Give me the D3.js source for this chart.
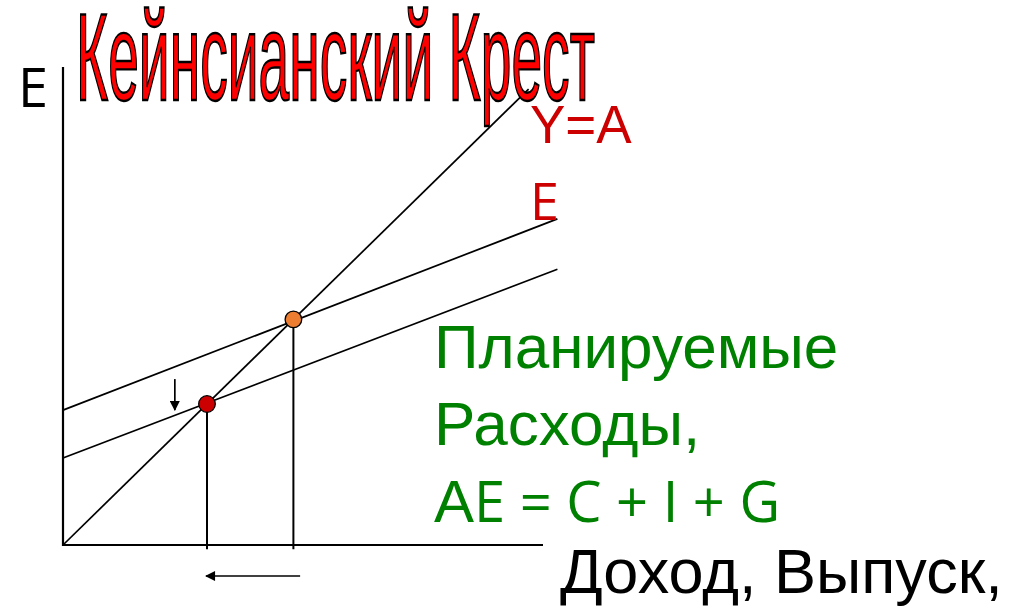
<!DOCTYPE html>
<html>
<head>
<meta charset="utf-8">
<script src="https://cdn.jsdelivr.net/npm/d3@7"></script>
<style>
  html, body { margin: 0; padding: 0; background: #fff; }
  svg { display: block; }
</style>
</head>
<body>
<script>
// Keynesian cross: 45 degree line and two planned expenditure lines

var w = 1011;
var h = 607;

// data (income / expenditure in abstract units)
var titleText = 'Кейнсианский Крест';
var incomeMax = 103;          // where AE lines stop
var axisMax = [100, 101.7];   // x axis end, y axis end
var diagMax = 97;             // Y = AE line end
var aeIntercept = [28.7, 18.5];
var aeSlope = [0.395, 0.39];
var equilibrium = [48, 30];   // old (orange) and new (red) equilibrium income
var pointColors = ['#ed7d31', '#cc0000'];
var greenLines = ['Планируемые', 'Расходы,'];
var xLabel = 'Доход, Выпуск,';

var x = d3.scaleLinear().domain([0, 100]).range([63, 543]);
var y = d3.scaleLinear().domain([0, 100]).range([545, 75]);

var svg = d3.select('body')
            .append('svg')
            .attr('width', w)
            .attr('height', h);

var defs = svg.append('defs');
defs.append('marker')
  .attr('id', 'head')
  .attr('viewBox', '0 0 10 10')
  .attr('refX', 9)
  .attr('refY', 5)
  .attr('markerWidth', 12)
  .attr('markerHeight', 10)
  .attr('markerUnits', 'userSpaceOnUse')
  .attr('orient', 'auto')
  .append('path')
  .attr('d', 'M0,0 L10,5 L0,10 Z')
  .attr('fill', '#000');

var line = d3.line()
  .x(function(d){ return x(d[0]); })
  .y(function(d){ return y(d[1]); });

// axes
svg.append('path')
  .attr('d', line([[0, axisMax[1]], [0, 0], [axisMax[0], 0]]))
  .attr('fill', 'none')
  .attr('stroke', '#000')
  .attr('stroke-width', 2.2);

// Y = AE
svg.append('path')
  .attr('d', line([[0, 0], [diagMax, diagMax]]))
  .attr('stroke', '#000')
  .attr('stroke-width', 1.7);

// planned expenditure lines
svg.selectAll('path.ae')
  .data(aeIntercept)
  .enter()
  .append('path')
  .attr('class', 'ae')
  .attr('d', function(d, i){
    return line([[0, d], [incomeMax, d + aeSlope[i] * incomeMax]]);
  })
  .attr('stroke', '#000')
  .attr('stroke-width', 1.7);

// drop lines
svg.selectAll('path.drop')
  .data(equilibrium)
  .enter()
  .append('path')
  .attr('class', 'drop')
  .attr('d', function(d){ return line([[d, d], [d, -0.9]]); })
  .attr('stroke', '#000')
  .attr('stroke-width', 2);

// arrows: shift of AE down, fall of income
svg.append('path')
  .attr('d', line([[23.3, 35.3], [23.3, 28.7]]))
  .attr('stroke', '#000')
  .attr('stroke-width', 1.7)
  .attr('marker-end', 'url(#head)');

svg.append('path')
  .attr('d', line([[49.4, -6.6], [29.8, -6.6]]))
  .attr('stroke', '#000')
  .attr('stroke-width', 1.7)
  .attr('marker-end', 'url(#head)');

// equilibrium points
svg.selectAll('circle')
  .data(equilibrium)
  .enter()
  .append('circle')
  .attr('cx', function(d){ return x(d); })
  .attr('cy', function(d){ return y(d); })
  .attr('r', 8.3)
  .attr('fill', function(d, i){ return pointColors[i]; })
  .attr('stroke', '#000')
  .attr('stroke-width', 1.3);

// labels
svg.append('text')
  .attr('x', 18)
  .attr('y', 107)
  .attr('font-family', 'Open Sans, sans-serif')
  .attr('font-size', 54)
  .attr('fill', '#000')
  .text('E');

svg.append('text')
  .attr('x', 530)
  .attr('y', 143)
  .attr('font-family', 'Liberation Sans, Arial, sans-serif')
  .attr('font-size', 53)
  .attr('fill', '#cc0000')
  .text('Y=A');

svg.append('text')
  .attr('x', 530)
  .attr('y', 220)
  .attr('font-family', 'Open Sans, sans-serif')
  .attr('font-size', 52)
  .attr('fill', '#cc0000')
  .text('E');

svg.selectAll('text.green')
  .data(greenLines)
  .enter()
  .append('text')
  .attr('class', 'green')
  .attr('x', 434)
  .attr('y', function(d, i){ return 368 + i * 77; })
  .attr('font-family', 'Liberation Sans, Arial, sans-serif')
  .attr('font-size', 62)
  .attr('fill', '#008000')
  .text(function(d){ return d; });

var ae = svg.append('text')
  .attr('x', 434)
  .attr('y', 522)
  .attr('font-size', 60)
  .attr('fill', '#008000');
ae.append('tspan')
  .attr('font-family', 'Liberation Sans, Arial, sans-serif')
  .text('A');
ae.append('tspan')
  .attr('font-family', 'Open Sans, sans-serif')
  .attr('font-size', 56)
  .text('E = C + I + G');

svg.append('text')
  .attr('x', 560)
  .attr('y', 593)
  .attr('font-family', 'Liberation Sans, Arial, sans-serif')
  .attr('font-size', 63)
  .attr('fill', '#000')
  .text(xLabel);

// title on top
svg.append('text')
  .attr('x', 76)
  .attr('y', 100)
  .attr('font-family', 'Liberation Sans Narrow, Liberation Sans, Arial, sans-serif')
  .attr('font-size', 125)
  .attr('textLength', 519)
  .attr('lengthAdjust', 'spacingAndGlyphs')
  .attr('fill', '#ff0000')
  .attr('stroke', '#000')
  .attr('stroke-width', 2.4)
  .text(titleText);
</script>
</body>
</html>
